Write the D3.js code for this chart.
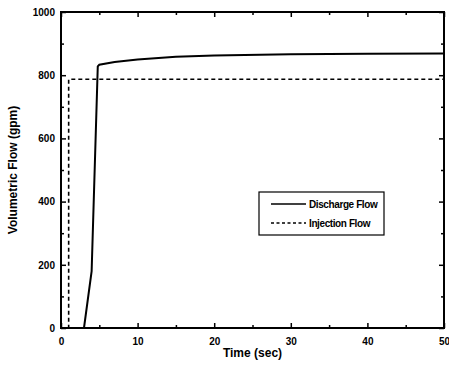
<!DOCTYPE html>
<html>
<head>
<meta charset="utf-8">
<script src="https://cdn.jsdelivr.net/npm/d3@7"></script>
<style>
  body { margin: 0; background: #fff; }
  svg text { font-family: "Liberation Sans", Arial, sans-serif; font-weight: bold; fill: #000; }
</style>
</head>
<body>
<svg id="chart" width="449" height="369"></svg>
<script>
// data
let dischargeTime = [3, 4, 4.8, 5, 7, 10, 15, 20, 30, 40, 50];
let dischargeFlow = [0, 180, 828, 833, 842, 850, 858, 862, 866, 868, 869];
let injectionTime = [0, 1, 1, 50];
let injectionFlow = [0, 0, 787, 787];
let xTicks = [0, 10, 20, 30, 40, 50];
let yTicks = [0, 200, 400, 600, 800, 1000];
let seriesNames = ["Discharge Flow", "Injection Flow"];

let svg = d3.select("#chart");
let plotLeft = 61, plotRight = 444, plotTop = 12, plotBottom = 328;

let x = d3.scaleLinear().domain([0, 50]).range([plotLeft, plotRight]);
let y = d3.scaleLinear().domain([0, 1000]).range([plotBottom, plotTop]);

// ticks pointing inwards on all four sides
let xMinor = d3.range(0, 51, 5);
let yMinor = d3.range(0, 1001, 100);

function drawAxis(axis, transform) {
    let g = svg.append("g").attr("transform", transform).call(axis);
    g.select(".domain").remove();
    g.selectAll("line").attr("stroke", "#000").attr("stroke-width", 1.5);
    return g;
}

let bottomAxis = drawAxis(d3.axisBottom(x).tickValues(xMinor).tickSize(-5)
    .tickFormat(d => xTicks.includes(d) ? d : ""), `translate(0,${plotBottom})`);
bottomAxis.selectAll("text").attr("font-size", 10).attr("dy", "1.4em");
bottomAxis.selectAll(".tick").filter(d => !xTicks.includes(d)).select("line").attr("y2", -3);

let leftAxis = drawAxis(d3.axisLeft(y).tickValues(yMinor).tickSize(-5)
    .tickFormat(d => yTicks.includes(d) ? d : ""), `translate(${plotLeft},0)`);
leftAxis.selectAll("text").attr("font-size", 10).attr("dx", "-0.3em");
leftAxis.selectAll(".tick").filter(d => !yTicks.includes(d)).select("line").attr("x2", 3);

let topAxis = drawAxis(d3.axisTop(x).tickValues(xMinor).tickSize(-5).tickFormat(""), `translate(0,${plotTop})`);
topAxis.selectAll(".tick").filter(d => !xTicks.includes(d)).select("line").attr("y2", 3);
let rightAxis = drawAxis(d3.axisRight(y).tickValues(yMinor).tickSize(-5).tickFormat(""), `translate(${plotRight},0)`);
rightAxis.selectAll(".tick").filter(d => !yTicks.includes(d)).select("line").attr("x2", -3);

// frame
svg.append("rect")
    .attr("x", plotLeft).attr("y", plotTop)
    .attr("width", plotRight - plotLeft).attr("height", plotBottom - plotTop)
    .attr("fill", "none").attr("stroke", "#000").attr("stroke-width", 2);

let line = d3.line().x(d => x(d[0])).y(d => y(d[1]));

svg.append("path")
    .datum(dischargeTime.map((t, i) => [t, dischargeFlow[i]]))
    .attr("d", line)
    .attr("fill", "none").attr("stroke", "#000").attr("stroke-width", 2);

svg.append("path")
    .datum(injectionTime.map((t, i) => [t, injectionFlow[i]]))
    .attr("d", line)
    .attr("fill", "none").attr("stroke", "#000").attr("stroke-width", 1.6)
    .attr("stroke-dasharray", "4,3");

// axis titles
svg.append("text")
    .attr("x", (plotLeft + plotRight) / 2).attr("y", 357)
    .attr("text-anchor", "middle").attr("font-size", 12)
    .text("Time (sec)");

svg.append("text")
    .attr("transform", `translate(17,${(plotTop + plotBottom) / 2}) rotate(-90)`)
    .attr("text-anchor", "middle").attr("font-size", 12)
    .text("Volumetric Flow (gpm)");

// legend
let legend = svg.append("g").attr("transform", "translate(259,192)");
legend.append("rect")
    .attr("width", 125).attr("height", 43)
    .attr("fill", "#fff").attr("stroke", "#000").attr("stroke-width", 1.2);
seriesNames.forEach((name, i) => {
    let ly = 12 + i * 19;
    legend.append("line")
        .attr("x1", 12).attr("x2", 47).attr("y1", ly).attr("y2", ly)
        .attr("stroke", "#000").attr("stroke-width", 1.5)
        .attr("stroke-dasharray", i === 0 ? null : "3,2.5");
    legend.append("text")
        .attr("x", 50).attr("y", ly + 3.5)
        .attr("font-size", 10).attr("letter-spacing", "-0.4")
        .text(name);
});
</script>
</body>
</html>
